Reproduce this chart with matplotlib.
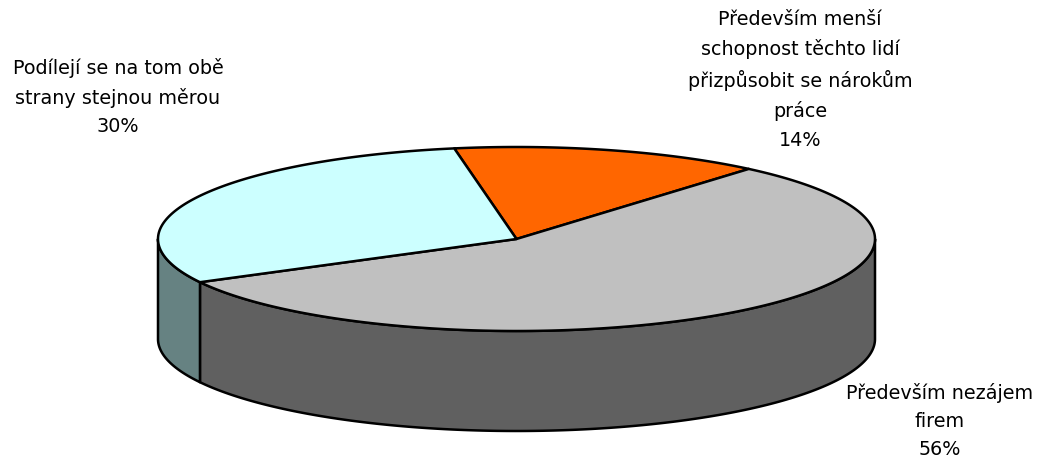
import numpy as np
import matplotlib
matplotlib.use("Agg")
import matplotlib.pyplot as plt
from matplotlib.patches import Polygon

labels = ["Především menší\nschopnost těchto lidí\npřizpůsobit se nárokům\npráce",
          "Především nezájem\nfirem",
          "Podílejí se na tom obě\nstrany stejnou měrou"]
values = [14, 56, 30]
top_colors = ["#FF6600", "#C0C0C0", "#CCFFFF"]
side_colors = ["#803300", "#606060", "#668282"]

W, H = 1037, 459
fig = plt.figure(figsize=(W / 100, H / 100), dpi=100)
ax = fig.add_axes([0, 0, 1, 1])
ax.set_xlim(0, W)
ax.set_ylim(H, 0)
ax.axis("off")

cx, cy, a, b, depth = 516.5, 239.0, 358.5, 92.0, 100.0
start = 100.0

def pt(t):
    r = np.radians(t)
    return cx + a * np.cos(r), cy - b * np.sin(r)

total = sum(values)
bounds = []
ang = start
for v in values:
    nxt = ang - v / total * 360.0
    bounds.append((ang, nxt))
    ang = nxt

lw = 1.8
# sides (front half: angles -180..0)
for (t0, t1), sc in zip(bounds, side_colors):
    for shift in (-720, -360, 0, 360):
        h, l = t0 + shift, t1 + shift
        s_hi = min(h, 0.0)
        s_lo = max(l, -180.0)
        if s_hi > s_lo:
            ts = np.linspace(s_lo, s_hi, 200)
            xs, ys = pt(ts)
            poly = np.concatenate([
                np.column_stack([xs, ys]),
                np.column_stack([xs[::-1], ys[::-1] + depth])])
            ax.add_patch(Polygon(poly, closed=True, facecolor=sc,
                                 edgecolor="black", lw=lw, joinstyle="round"))

# tops
for (t0, t1), tc in zip(bounds, top_colors):
    ts = np.linspace(t0, t1, 300)
    xs, ys = pt(ts)
    poly = np.concatenate([[[cx, cy]], np.column_stack([xs, ys])])
    ax.add_patch(Polygon(poly, closed=True, facecolor=tc,
                         edgecolor="black", lw=lw, joinstyle="round"))

fs = 13.8
font = dict(fontsize=fs, family="DejaVu Sans", ha="center", va="center",
            color="black", linespacing=1.63)
label_pos = [(800, 80), (940, 421), (118, 97)]
for lab, v, (x, y) in zip(labels, values, label_pos):
    ax.text(x, y, f"{lab}\n{v}%", **font)

fig.savefig("out.png", dpi=100)
